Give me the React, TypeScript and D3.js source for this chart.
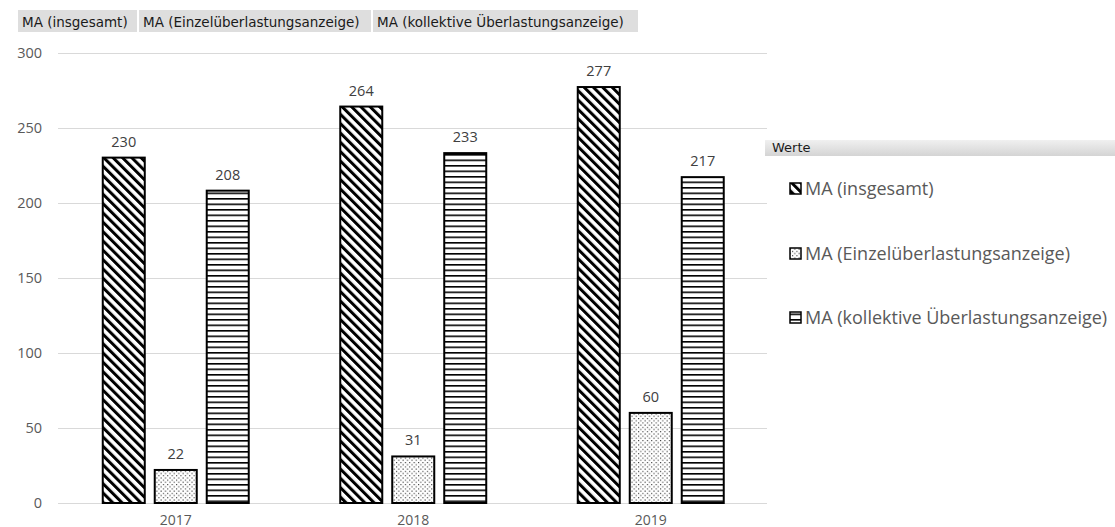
import { useEffect, useRef } from 'react';
import * as d3 from 'd3';

const years = ['2017', '2018', '2019'];
const seriesNames = [
  'MA (insgesamt)',
  'MA (Einzelüberlastungsanzeige)',
  'MA (kollektive Überlastungsanzeige)',
];
const insgesamt = [230, 264, 277];
const einzel = [22, 31, 60];
const kollektiv = [208, 233, 217];
const yTicks = [0, 50, 100, 150, 200, 250, 300];

const patternIds = ['pat-diag', 'pat-dots', 'pat-horiz'];

export default function App() {
  const svgRef = useRef<SVGSVGElement>(null);
  const width = 1115;
  const height = 527;

  useEffect(() => {
    if (!svgRef.current) return;
    const svg = d3.select(svgRef.current);
    svg.selectAll('*').remove();

    const tahoma = 'Tahoma, "DejaVu Sans", sans-serif';
    const sans = '"Open Sans", sans-serif';
    const grey = '#595959';

    // fill patterns
    const defs = svg.append('defs');
    const diag = defs.append('pattern')
      .attr('id', 'pat-diag')
      .attr('patternUnits', 'userSpaceOnUse')
      .attr('width', 6.6).attr('height', 6.6)
      .attr('patternTransform', 'rotate(-45)');
    diag.append('rect').attr('width', 6.6).attr('height', 6.6).attr('fill', '#fff');
    diag.append('rect').attr('width', 3).attr('height', 6.6).attr('fill', '#000');

    const dots = defs.append('pattern')
      .attr('id', 'pat-dots')
      .attr('patternUnits', 'userSpaceOnUse')
      .attr('width', 4.4).attr('height', 4.4);
    dots.append('rect').attr('width', 4.4).attr('height', 4.4).attr('fill', '#fff');
    dots.append('rect').attr('x', 0).attr('y', 0).attr('width', 1.1).attr('height', 1.1).attr('fill', '#333');
    dots.append('rect').attr('x', 2.2).attr('y', 2.2).attr('width', 1.1).attr('height', 1.1).attr('fill', '#333');

    const horiz = defs.append('pattern')
      .attr('id', 'pat-horiz')
      .attr('patternUnits', 'userSpaceOnUse')
      .attr('width', 6).attr('height', 5.5);
    horiz.append('rect').attr('width', 6).attr('height', 5.5).attr('fill', '#fff');
    horiz.append('rect').attr('width', 6).attr('height', 1.6).attr('fill', '#000');

    svg.append('rect').attr('width', width).attr('height', height).attr('fill', '#fff');

    const y = d3.scaleLinear().domain([0, 300]).range([503, 52.5]);
    const x0 = d3.scaleBand<string>().domain(years).range([57, 769.5]);
    const x1 = d3.scaleBand<string>()
      .domain(seriesNames)
      .range([0, x0.bandwidth()])
      .paddingInner(0.192)
      .paddingOuter(0.88);

    // grid
    svg.append('g').selectAll('line')
      .data(yTicks)
      .join('line')
      .attr('x1', 58)
      .attr('x2', 767)
      .attr('y1', d => Math.round(y(d)) + 0.5)
      .attr('y2', d => Math.round(y(d)) + 0.5)
      .attr('stroke', '#d9d9d9')
      .attr('stroke-width', 1);

    // y axis labels
    svg.append('g').selectAll('text')
      .data(yTicks)
      .join('text')
      .attr('x', 42)
      .attr('y', d => y(d) + 5)
      .attr('text-anchor', 'end')
      .style('font-family', sans)
      .style('font-size', '14.5px')
      .style('fill', grey)
      .text(d => d);

    const allSeries = [insgesamt, einzel, kollektiv];
    allSeries.forEach((vals, si) => {
      const g = svg.append('g');
      g.selectAll('rect')
        .data(vals)
        .join('rect')
        .attr('x', (_, i) => (x0(years[i]) ?? 0) + (x1(seriesNames[si]) ?? 0))
        .attr('y', d => y(d))
        .attr('width', x1.bandwidth())
        .attr('height', d => y(0) - y(d))
        .attr('fill', `url(#${patternIds[si]})`)
        .attr('stroke', '#000')
        .attr('stroke-width', 2);
      g.selectAll('text')
        .data(vals)
        .join('text')
        .attr('x', (_, i) => (x0(years[i]) ?? 0) + (x1(seriesNames[si]) ?? 0) + x1.bandwidth() / 2)
        .attr('y', d => y(d) - 11)
        .attr('text-anchor', 'middle')
        .style('font-family', sans)
        .style('font-size', '14.5px')
        .style('fill', '#404040')
        .text(d => d);
    });

    // x axis labels
    svg.append('g').selectAll('text')
      .data(years)
      .join('text')
      .attr('x', d => (x0(d) ?? 0) + x0.bandwidth() / 2)
      .attr('y', 525)
      .attr('text-anchor', 'middle')
      .style('font-family', sans)
      .style('font-size', '14px')
      .style('fill', grey)
      .text(d => d);

    // field buttons at top
    const btnX = [18, 139, 373];
    const btnW = [119, 232, 265];
    const btns = svg.append('g');
    seriesNames.forEach((name, i) => {
      btns.append('rect')
        .attr('x', btnX[i]).attr('y', 10)
        .attr('width', btnW[i]).attr('height', 22)
        .attr('fill', '#dedede');
      btns.append('text')
        .attr('x', btnX[i] + 4).attr('y', 27)
        .style('font-family', tahoma)
        .style('font-size', '13.5px')
        .style('fill', '#1a1a1a')
        .text(name);
    });

    // legend
    const grad = defs.append('linearGradient')
      .attr('id', 'werte-grad')
      .attr('x1', 0).attr('x2', 0).attr('y1', 0).attr('y2', 1);
    grad.append('stop').attr('offset', '0%').attr('stop-color', '#f0f0f0');
    grad.append('stop').attr('offset', '100%').attr('stop-color', '#d4d4d4');
    svg.append('rect')
      .attr('x', 765).attr('y', 140).attr('width', 350).attr('height', 16)
      .attr('fill', 'url(#werte-grad)');
    svg.append('text')
      .attr('x', 772).attr('y', 152)
      .style('font-family', tahoma)
      .style('font-size', '13px')
      .style('fill', '#1a1a1a')
      .text('Werte');

    const legendY = [195, 260, 324];
    seriesNames.forEach((name, i) => {
      svg.append('rect')
        .attr('x', 790).attr('y', legendY[i] - 12)
        .attr('width', 11).attr('height', 11)
        .attr('fill', `url(#${patternIds[i]})`)
        .attr('stroke', '#000')
        .attr('stroke-width', 1.5);
      svg.append('text')
        .attr('x', 805).attr('y', legendY[i])
        .style('font-family', sans)
        .style('font-size', '18px')
        .style('fill', grey)
        .text(name);
    });
  }, []);

  return (
    <svg
      ref={svgRef}
      width={width}
      height={height}
      style={{ position: 'absolute', left: 0, top: 0, display: 'block' }}
    />
  );
}
